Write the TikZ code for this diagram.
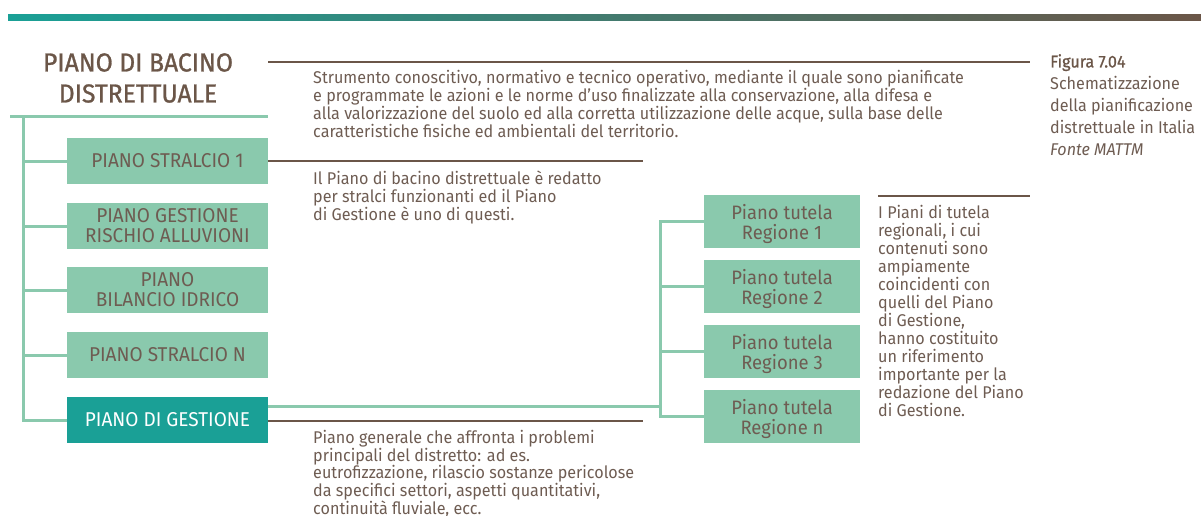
\documentclass[tikz,border=0pt]{standalone}
\usepackage{fontspec}
\setmainfont{Fira Sans}[FakeStretch=0.95]
\newfontfamily\figmedium{Fira Sans}[FakeStretch=0.95, FakeBold=1]
\usepackage{xcolor}
\usepackage{tikz}
\usetikzlibrary{calc}
\definecolor{figbrown}{RGB}{107,86,72}
\definecolor{figtext}{RGB}{110,92,82}
\definecolor{figgreen}{RGB}{138,201,173}
\definecolor{figteal}{RGB}{26,160,150}
\definecolor{figmid}{RGB}{62,138,124}
\tikzset{
  pbox/.style ={fill=figgreen, text=figtext, minimum width=201pt, minimum height=46pt, inner sep=0pt, align=center, font=\fontsize{20}{20}\selectfont},
  pboxd/.style={pbox, fill=figteal, text=white},
  rbox/.style ={fill=figgreen, text=figtext, minimum width=156pt, minimum height=53pt, inner sep=0pt, text depth=0pt, align=center, font=\fontsize{19.4}{20}\selectfont},
  ttl/.style  ={text=figbrown, align=center, inner sep=0pt, font=\figmedium\fontsize{26}{31}\selectfont},
  txt/.style  ={text=figtext, align=left, anchor=north west, inner sep=0pt, font=\fontsize{17}{18}\selectfont},
  figcap/.style={text=figtext, align=left, anchor=north west, inner sep=0pt, font=\fontsize{17}{22}\selectfont},
  rl/.style   ={draw=figbrown, line width=2pt},
  lnk/.style  ={draw=figgreen, line width=3pt},
}
\begin{document}
\begin{tikzpicture}[x=1pt,y=-1pt]
  \useasboundingbox (0,0) rectangle (1201,515);
  \shade[left color=figteal, middle color=figmid, right color=figbrown] (8,14) rectangle (1201,20);
  \node[ttl] (ttl) at (138,78) {PIANO DI BACINO\\DISTRETTUALE};
  \coordinate (ttlA) at (268,62);
  \coordinate (ttlB) at (1030,62);
  \draw[rl] (ttlA) -- (ttlB);
  \node[txt] (desc) at (313,70.5) {Strumento conoscitivo, normativo e tecnico operativo, mediante il quale sono pianificate\\e programmate le azioni e le norme d'uso finalizzate alla conservazione, alla difesa e\\alla valorizzazione del suolo ed alla corretta utilizzazione delle acque, sulla base delle\\caratteristiche fisiche ed ambientali del territorio.};
  \node[figcap] (fcap) at (1050,54) {{\figmedium\color{figbrown}Figura 7.04}\\Schematizzazione\\della pianificazione\\distrettuale in Italia\\{\itshape Fonte MATTM}};
  \coordinate (hl) at (10,116);
  \coordinate (hr) at (268,116);
  \coordinate (trk) at (23,116);
  \draw[lnk] (hl) -- (hr);
  \node[pbox] (s1) at (167.5,161) {PIANO STRALCIO 1};
  \node[pbox] (pgra) at (167.5,226) {PIANO GESTIONE\\RISCHIO ALLUVIONI};
  \node[pbox] (pbi) at (167.5,290) {PIANO\\BILANCIO IDRICO};
  \node[pbox] (sn) at (167.5,355) {PIANO STRALCIO N};
  \node[pboxd] (pg) at (167.5,420) {PIANO DI GESTIONE};
  \draw[lnk] (trk) |- (pg.west);
  \draw[lnk] (trk |- s1.west) -- (s1.west);
  \draw[lnk] (trk |- pgra.west) -- (pgra.west);
  \draw[lnk] (trk |- pbi.west) -- (pbi.west);
  \draw[lnk] (trk |- sn.west) -- (sn.west);
  \coordinate (s1r) at (643,161);
  \draw[rl] (s1.east) -- (s1r);
  \node[txt] (strl) at (313,171) {Il Piano di bacino distrettuale è redatto\\per stralci funzionanti ed il Piano\\di Gestione è uno di questi.};
  \coordinate (pgr) at (643,421);
  \draw[rl] ([yshift=-1pt]pg.east) -- (pgr);
  \node[txt, font=\fontsize{17}{17.75}\selectfont] (gest) at (313,430) {Piano generale che affronta i problemi\\principali del distretto: ad es.\\eutrofizzazione, rilascio sostanze pericolose\\da specifici settori, aspetti quantitativi,\\continuità fluviale, ecc.};
  \node[rbox] (r1) at (782,221.5) {Piano tutela\\Regione 1};
  \node[rbox] (r2) at (782,286.5) {Piano tutela\\Regione 2};
  \node[rbox] (r3) at (782,351.5) {Piano tutela\\Regione 3};
  \node[rbox] (rn) at (782,416.5) {Piano tutela\\Regione n};
  \coordinate (rtk) at (660,406);
  \draw[lnk] ([yshift=14pt]pg.east) -- (rtk);
  \draw[lnk] (r1.west) -| (rtk) |- (rn.west);
  \draw[lnk] (rtk |- r2.west) -- (r2.west);
  \draw[lnk] (rtk |- r3.west) -- (r3.west);
  \coordinate (tA) at (878,196);
  \coordinate (tB) at (1030,196);
  \draw[rl] (tA) -- (tB);
  \node[txt] (tut) at (878,205.5) {I Piani di tutela\\regionali, i cui\\contenuti sono\\ampiamente\\coincidenti con\\quelli del Piano\\di Gestione,\\hanno costituito\\un riferimento\\importante per la\\redazione del Piano\\di Gestione.};
\end{tikzpicture}
\end{document}
